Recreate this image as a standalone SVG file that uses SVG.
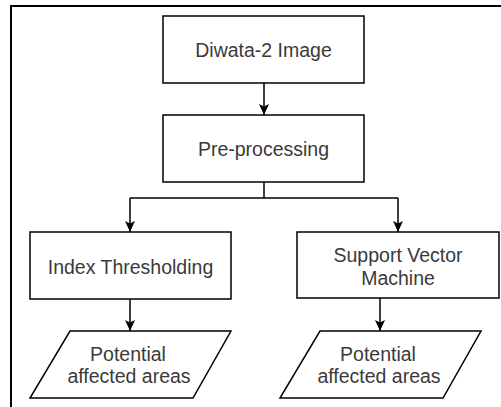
<svg xmlns="http://www.w3.org/2000/svg" width="501" height="407" viewBox="0 0 501 407">
<defs>
<marker id="arr" markerUnits="userSpaceOnUse" markerWidth="12" markerHeight="12" viewBox="0 0 12 12" refX="11" refY="6" orient="auto">
<path d="M0,1 L11,6 L0,11 L2.5,6 z" fill="#000"/>
</marker>
<style>
.box{fill:#fff;stroke:#000;stroke-width:1.5}
.t{font-family:"Liberation Sans",Arial,sans-serif;font-size:19.5px;fill:#3a3a3a;text-anchor:middle}
.c{fill:none;stroke:#000;stroke-width:1.5}
</style>
</defs>
<rect x="0" y="0" width="501" height="407" fill="#fff"/>
<path d="M11,408 L11,6 L502,6" fill="none" stroke="#000" stroke-width="2"/>
<g id="connectors">
<path class="c" d="M264,83 L264,115" marker-end="url(#arr)"/>
<path class="c" d="M264,182 L264,198 M130,198 L398,198"/>
<path class="c" d="M130,198 L130,232" marker-end="url(#arr)"/>
<path class="c" d="M398,198 L398,232" marker-end="url(#arr)"/>
<path class="c" d="M130,299 L130,331" marker-end="url(#arr)"/>
<path class="c" d="M380,298 L380,331" marker-end="url(#arr)"/>
</g>
<g id="diwata">
<rect class="box" x="163" y="16" width="201" height="67"/>
<text class="t" x="263.5" y="57">Diwata-2 Image</text>
</g>
<g id="preprocessing">
<rect class="box" x="163" y="115" width="201" height="67"/>
<text class="t" x="263.5" y="156">Pre-processing</text>
</g>
<g id="index">
<rect class="box" x="30" y="232" width="201" height="67"/>
<text class="t" x="130.5" y="274">Index Thresholding</text>
</g>
<g id="svm">
<rect class="box" x="297" y="232" width="202" height="66"/>
<text class="t" x="398" y="262">Support Vector</text>
<text class="t" x="398" y="285">Machine</text>
</g>
<g id="out1">
<polygon class="box" points="70,331 231,331 193,398 30,398"/>
<text class="t" x="128" y="361">Potential</text>
<text class="t" x="129" y="383">affected areas</text>
</g>
<g id="out2">
<polygon class="box" points="320,331 481,331 443,398 280,398"/>
<text class="t" x="378" y="361">Potential</text>
<text class="t" x="379" y="383">affected areas</text>
</g>
</svg>
